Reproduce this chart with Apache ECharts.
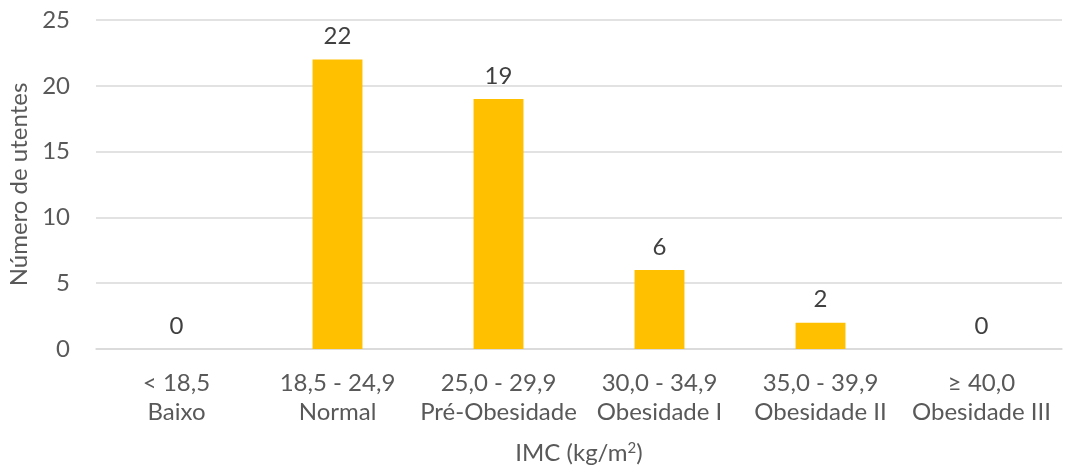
<!DOCTYPE html>
<html>
<head>
<meta charset="utf-8">
<script src="https://cdn.jsdelivr.net/npm/echarts@6/dist/echarts.min.js"></script>
<style>
  html, body { margin: 0; padding: 0; background: #fff; }
  #chart { width: 1066px; height: 470px; }
</style>
</head>
<body>
<div id="chart"></div>
<script>
// BMI classes (range + label) and number of patients in each
const categories = [
  '< 18,5\nBaixo',
  '18,5 - 24,9\nNormal',
  '25,0 - 29,9\nPré-Obesidade',
  '30,0 - 34,9\nObesidade I',
  '35,0 - 39,9\nObesidade II',
  '≥ 40,0\nObesidade III'
];
const counts = [0, 22, 19, 6, 2, 0];

const FONT = 'Lato, "Open Sans", sans-serif';
const SIZE = 24;
const chart = echarts.init(document.getElementById('chart'));

chart.setOption({
  animation: false,
  textStyle: { fontFamily: FONT },
  grid: { left: 96, right: 4, top: 20, bottom: 121, containLabel: false, outerBoundsMode: 'none' },
  xAxis: {
    type: 'category',
    data: categories,
    name: 'IMC (kg/m{sup|2})',
    nameLocation: 'middle',
    nameGap: 92,
    nameTextStyle: {
      fontFamily: FONT, fontSize: SIZE, color: '#595959',
      rich: { sup: { fontFamily: FONT, fontSize: 15, color: '#595959', verticalAlign: 'top', padding: [0, 0, 10, 0] } }
    },
    axisLine: { lineStyle: { color: '#d9d9d9', width: 1.5 } },
    axisTick: { show: false },
    axisLabel: {
      fontFamily: FONT, fontSize: SIZE, color: '#595959',
      lineHeight: 29, margin: 20, interval: 0
    }
  },
  yAxis: {
    type: 'value',
    min: 0, max: 25, interval: 5,
    name: 'Número de utentes',
    nameLocation: 'middle',
    nameGap: 62,
    nameTextStyle: { fontFamily: FONT, fontSize: SIZE, color: '#595959' },
    axisLine: { show: false },
    axisTick: { show: false },
    axisLabel: { fontFamily: FONT, fontSize: SIZE, color: '#595959', margin: 26 },
    splitLine: { lineStyle: { color: '#d9d9d9', width: 1.5 } }
  },
  series: [{
    type: 'bar',
    data: counts,
    barWidth: '31%',
    itemStyle: { color: '#FFC000' },
    label: {
      show: true, position: 'top', distance: 11,
      fontFamily: FONT, fontSize: SIZE, color: '#404040'
    }
  }]
});
</script>
</body>
</html>
